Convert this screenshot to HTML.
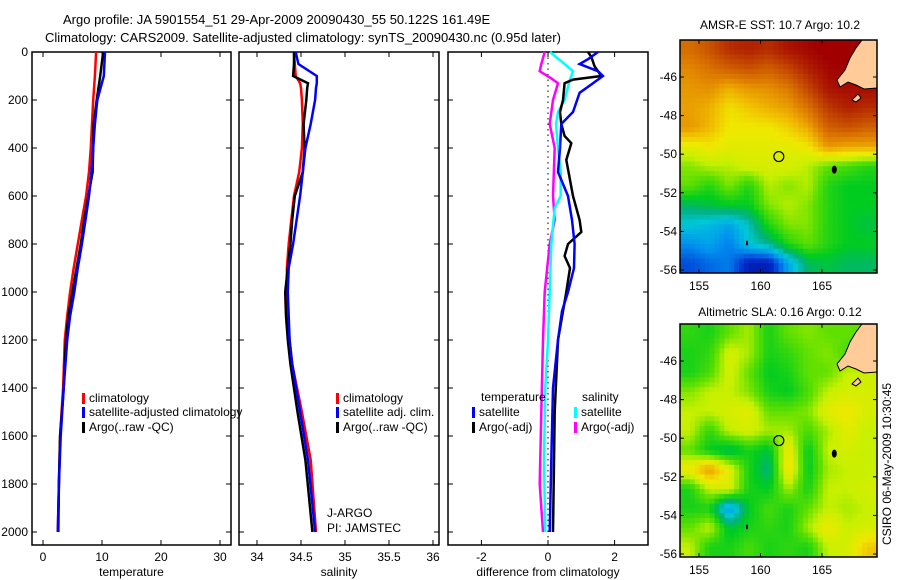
<!DOCTYPE html>
<html><head><meta charset="utf-8"><style>
html,body{margin:0;padding:0;background:#fff;}
svg{display:block;font-family:"Liberation Sans",sans-serif;}
text{font-size:12px;fill:#000;}
</style></head><body>
<svg id="fig" width="900" height="580" viewBox="0 0 900 580" xmlns="http://www.w3.org/2000/svg">
<text x="63" y="24" style="font-size:13px">Argo profile: JA 5901554_51 29-Apr-2009 20090430_55 50.122S 161.49E</text>
<text x="45" y="42" style="font-size:13px">Climatology: CARS2009. Satellite-adjusted climatology: synTS_20090430.nc (0.95d later)</text>
<text x="780" y="29" text-anchor="middle">AMSR-E SST: 10.7 Argo: 10.2</text>
<text x="780" y="316" text-anchor="middle">Altimetric SLA: 0.16 Argo: 0.12</text>
<text transform="translate(891,545) rotate(-90)" x="0" y="0">CSIRO 06-May-2009 10:30:45</text>
<g id="plots"></g>
</svg>
<script>
// ---------- profile data ----------
const depthT = [0,100,200,300,400,500,600,700,800,900,1000,1100,1200,1400,1600,1800,2000];
const climT = [9.0,8.8,8.5,8.3,8.1,7.8,7.3,6.6,5.9,5.2,4.6,4.1,3.7,3.4,2.9,2.7,2.5];
const satT = [10.5,10.3,9.2,8.8,8.5,8.2,7.8,7.2,6.6,5.9,5.3,4.6,4.1,3.5,3.0,2.7,2.5];
const argoT = [10.2,9.7,9.1,8.6,8.5,8.4,7.7,7.0,6.4,5.7,5.0,4.3,3.9,3.5,2.9,2.7,2.6];

const depthS = [0,50,100,130,150,200,300,400,500,600,700,800,900,1000,1100,1200,1300,1500,1700,2000];
const climS = [34.42,34.43,34.44,34.49,34.50,34.51,34.52,34.51,34.48,34.42,34.39,34.36,34.34,34.34,34.35,34.37,34.40,34.51,34.61,34.67];
const satS = [34.44,34.47,34.68,34.68,34.67,34.66,34.61,34.55,34.52,34.49,34.45,34.41,34.36,34.35,34.36,34.37,34.40,34.49,34.58,34.66];
const argoS = [34.42,34.42,34.41,34.58,34.57,34.56,34.53,34.54,34.52,34.43,34.40,34.38,34.35,34.32,34.33,34.35,34.38,34.46,34.55,34.63];

const dDepthTS = [0,30,50,80,100,130,170,250,300,400,500,600,700,800,900,1000,1080,1200,1400,1700,2000];
const dTsat = [1.5,1.2,0.95,1.5,1.65,1.35,0.95,0.75,0.4,0.36,0.3,0.6,0.72,0.8,0.78,0.6,0.42,0.3,0.15,0.1,0.05];
const dDepthTA = [0,20,60,100,115,130,200,250,300,350,380,450,600,700,750,800,850,900,1000,1200,1500,2000];
const dTargo = [1.2,1.3,1.4,1.6,0.75,0.5,0.45,0.36,0.4,0.5,0.7,0.55,0.75,0.95,1.0,0.6,0.5,0.66,0.55,0.3,0.2,0.15];
const dDepthSS = [0,50,80,120,200,250,300,400,500,600,650,800,1000,1200,1400,1700,2000];
const dSsat = [0.06,0.5,0.75,0.65,0.5,0.3,0.24,0.3,0.38,0.38,0.2,0.1,0.05,0,-0.08,-0.12,-0.08];
const dDepthSA = [0,50,80,110,130,200,300,400,600,700,800,1000,1200,1500,1800,2000];
const dSargo = [-0.1,-0.2,-0.25,0.1,0.3,0.15,0.05,0.2,0.15,0.2,0.05,-0.1,-0.15,-0.2,-0.25,-0.15];

const depthTicks = [0,200,400,600,800,1000,1200,1400,1600,1800,2000];
const tempTicks = [0,10,20,30];
const salTicks = [34,34.5,35,35.5,36];
const salTickLabels = ["34","34.5","35","35.5","36"];
const diffTicks = [-2,0,2];
const diffTickLabels = ["-2","0","2"];

// ---------- map data (value 0..1 on colormap; -1 = land) ----------
const sstGrid = [
[0.78,0.82,0.88,0.9,0.88,0.92,0.94,0.96,0.96,-1],
[0.74,0.77,0.8,0.82,0.8,0.84,0.9,0.94,0.95,-1],
[0.72,0.73,0.69,0.72,0.73,0.76,0.84,0.92,0.93,-1],
[0.71,0.69,0.63,0.66,0.69,0.71,0.77,0.86,0.9,0.88],
[0.72,0.68,0.62,0.62,0.62,0.65,0.7,0.8,0.82,0.8],
[0.6,0.62,0.6,0.6,0.6,0.6,0.62,0.72,0.7,0.7],
[0.52,0.55,0.55,0.58,0.58,0.58,0.55,0.5,0.48,0.45],
[0.5,0.45,0.52,0.45,0.55,0.52,0.55,0.45,0.42,0.42],
[0.38,0.4,0.42,0.42,0.52,0.55,0.52,0.45,0.42,0.42],
[0.3,0.28,0.25,0.32,0.45,0.52,0.52,0.45,0.42,0.4],
[0.22,0.25,0.2,0.3,0.35,0.45,0.5,0.45,0.42,0.42],
[0.15,0.18,0.2,0.08,0.08,0.25,0.38,0.4,0.38,0.38]];
const slaGrid = [
[0.46,0.44,0.5,0.54,0.44,0.5,0.52,0.5,0.5,-1],
[0.44,0.46,0.58,0.54,0.44,0.46,0.5,0.52,0.48,-1],
[0.44,0.48,0.58,0.5,0.42,0.44,0.5,0.5,0.56,0.56],
[0.52,0.56,0.56,0.52,0.44,0.42,0.48,0.56,0.58,0.58],
[0.56,0.56,0.58,0.6,0.5,0.5,0.52,0.6,0.62,0.58],
[0.56,0.46,0.56,0.58,0.54,0.54,0.48,0.54,0.6,0.56],
[0.5,0.42,0.38,0.44,0.4,0.62,0.42,0.56,0.58,0.56],
[0.62,0.72,0.6,0.44,0.36,0.64,0.42,0.54,0.56,0.56],
[0.44,0.56,0.58,0.44,0.42,0.54,0.44,0.56,0.56,0.58],
[0.44,0.44,0.22,0.42,0.48,0.44,0.5,0.56,0.54,0.56],
[0.5,0.56,0.4,0.44,0.46,0.44,0.54,0.62,0.56,0.58],
[0.56,0.44,0.44,0.48,0.44,0.46,0.44,0.56,0.58,0.66]];
const lonTicks = [155,160,165];
const latTicks = [-46,-48,-50,-52,-54,-56];
const argoLon = 161.49, argoLat = -50.122;

// ---------- helpers ----------
const NS = "http://www.w3.org/2000/svg";
const root = document.getElementById('plots');
function mk(tag, attrs, parent){
  const e = document.createElementNS(NS, tag);
  for (const k in attrs) e.setAttribute(k, attrs[k]);
  (parent||root).appendChild(e);
  return e;
}
const yD = d => 52 + d*0.24;

function panel(name, x0, x1, xScale, ticks, tickLabels, title, yLabels){
  const g = mk('g', {});
  
  
  const fr = mk('rect', {x:x0, y:52, width:x1-x0, height:493, fill:'none', stroke:'#000', 'stroke-width':1.5}, g);
  
  
  ticks.forEach((t,i)=>{
    const x = xScale(t);
    mk('line', {x1:x, y1:52, x2:x, y2:57, stroke:'#000'}, g);
    mk('line', {x1:x, y1:545, x2:x, y2:540, stroke:'#000'}, g);
    const tl = mk('text', {x:x, y:561, 'text-anchor':'middle'}, g);
    tl.textContent = tickLabels[i];
    
    
  });
  depthTicks.forEach(d=>{
    const y = yD(d);
    mk('line', {x1:x0, y1:y, x2:x0+5, y2:y, stroke:'#000'}, g);
    mk('line', {x1:x1, y1:y, x2:x1-5, y2:y, stroke:'#000'}, g);
    if (yLabels){
      const tl = mk('text', {x:28, y:y+4, 'text-anchor':'end'}, g);
      tl.textContent = d;
      
      
    }
  });
  const at = mk('text', {x:(x0+x1)/2, y:576, 'text-anchor':'middle'}, g);
  at.textContent = title;
  
  
  return g;
}
function line(g, name, xs, ds, xScale, color, w){
  const pts = xs.map((v,i)=> xScale(v).toFixed(1)+','+yD(ds[i]).toFixed(1)).join(' ');
  const p = mk('polyline', {points:pts, fill:'none', stroke:color, 'stroke-width':w||2.5, 'stroke-linejoin':'miter'}, g);
  
  
}
function legend(g, name, x, y, color, label){
  mk('rect', {x:x, y:y-9, width:3, height:11, fill:color}, g);
  const t = mk('text', {x:x+7, y:y}, g);
  t.textContent = label;
  
  
}

// ---------- temperature panel ----------
const xT = v => 43 + v*5.9;
const g1 = panel('temperature-panel', 32, 231, xT, tempTicks, tempTicks.map(String), 'temperature', true);
line(g1, 'temp-climatology-line', climT, depthT, xT, '#ff0000');
line(g1, 'temp-argo-line', argoT, depthT, xT, '#000000');
line(g1, 'temp-satellite-line', satT, depthT, xT, '#0000ff');
legend(g1, 'legend-climatology', 82, 402, '#ff0000', 'climatology');
legend(g1, 'legend-satellite-adjusted', 82, 416, '#0000ff', 'satellite-adjusted climatology');
legend(g1, 'legend-argo-raw', 82, 431, '#000000', 'Argo(..raw -QC)');

// ---------- salinity panel ----------
const xS = v => 257 + (v-34)*88;
const g2 = panel('salinity-panel', 239, 439, xS, salTicks, salTickLabels, 'salinity', false);
line(g2, 'sal-climatology-line', climS, depthS, xS, '#ff0000');
line(g2, 'sal-argo-line', argoS, depthS, xS, '#000000');
line(g2, 'sal-satellite-line', satS, depthS, xS, '#0000ff');
legend(g2, 'legend-sal-climatology', 336, 402, '#ff0000', 'climatology');
legend(g2, 'legend-sal-satellite', 336, 416, '#0000ff', 'satellite adj. clim.');
legend(g2, 'legend-sal-argo', 336, 431, '#000000', 'Argo(..raw -QC)');
const j1 = mk('text', {x:327, y:517}, g2); j1.textContent = 'J-ARGO';


const j2 = mk('text', {x:327, y:532}, g2); j2.textContent = 'PI: JAMSTEC';



// ---------- difference panel ----------
const xDf = v => 548 + v*33.3;
const g3 = panel('difference-panel', 448, 648, xDf, diffTicks, diffTickLabels, 'difference from climatology', false);
const zl = mk('line', {x1:xDf(0), y1:52, x2:xDf(0), y2:545, stroke:'#000', 'stroke-width':1, 'stroke-dasharray':'1.5,4'}, g3);


line(g3, 'diff-sal-argo-line', dSargo, dDepthSA, xDf, '#ff00ff');
line(g3, 'diff-sal-satellite-line', dSsat, dDepthSS, xDf, '#00ffff');
line(g3, 'diff-temp-argo-line', dTargo, dDepthTA, xDf, '#000000');
line(g3, 'diff-temp-satellite-line', dTsat, dDepthTS, xDf, '#0000ff');
const lt = mk('text', {x:481, y:401}, g3); lt.textContent = 'temperature';


const ls = mk('text', {x:582, y:401}, g3); ls.textContent = 'salinity';


legend(g3, 'legend-diff-temp-satellite', 472, 416, '#0000ff', 'satellite');
legend(g3, 'legend-diff-temp-argo', 472, 431, '#000000', 'Argo(-adj)');
legend(g3, 'legend-diff-sal-satellite', 574, 416, '#00ffff', 'satellite');
legend(g3, 'legend-diff-sal-argo', 574, 431, '#ff00ff', 'Argo(-adj)');

// ---------- maps ----------
const stops = [[0,'#000080'],[0.12,'#0030d0'],[0.22,'#0090f0'],[0.3,'#00c8d8'],[0.36,'#00b080'],[0.42,'#00cc20'],[0.5,'#60e000'],[0.56,'#c8f000'],[0.62,'#f0e800'],[0.68,'#f0b800'],[0.75,'#e08000'],[0.85,'#c04000'],[0.95,'#a00000'],[1,'#a00000']];
function hx(c){return [1,3,5].map(i=>parseInt(c.substr(i,2),16));}
function cmap(v){
  for (let i=0;i<stops.length-1;i++){
    if (v <= stops[i+1][0]){
      const t = Math.max(0,(v-stops[i][0])/(stops[i+1][0]-stops[i][0]));
      const a = hx(stops[i][1]), b = hx(stops[i+1][1]);
      return 'rgb('+a.map((c,k)=>Math.round(c+(b[k]-c)*t)).join(',')+')';
    }
  }
  return stops[stops.length-1][1];
}
function seaVal(grid, r, c){
  const rows = grid.length, cols = grid[0].length;
  r = Math.min(rows-1, Math.max(0, r)); c = Math.min(cols-1, Math.max(0, c));
  let v = grid[r][c];
  let cc = c;
  while (v < 0 && cc > 0){ cc--; v = grid[r][cc]; }
  return v;
}
function sample(grid, fr, fc){
  const r0 = Math.floor(fr), c0 = Math.floor(fc);
  const tr = fr - r0, tc = fc - c0;
  const a = seaVal(grid,r0,c0), b = seaVal(grid,r0,c0+1), c = seaVal(grid,r0+1,c0), d = seaVal(grid,r0+1,c0+1);
  return a*(1-tr)*(1-tc) + b*(1-tr)*tc + c*tr*(1-tc) + d*tr*tc;
}
function map(name, grid, top){
  const x0 = 680, x1 = 877, y0 = top, y1 = top + 233;
  const lonX = lon => 760.5 + (lon-160)*12.3;
  const latY = lat => (top+37) + (-46-lat)*19.3;
  const g = mk('g', {});
  
  
  const rows = grid.length, cols = grid[0].length;
  const F = 4;
  const cw = (x1-x0)/(cols*F), ch = (y1-y0)/(rows*F);
  for (let i=0;i<rows*F;i++){
    for (let j=0;j<cols*F;j++){
      const fr = (i+0.5)/F - 0.5, fc = (j+0.5)/F - 0.5;
      const v = sample(grid, fr, fc);
      const cell = mk('rect', {x:(x0+j*cw).toFixed(2), y:(y0+i*ch).toFixed(2), width:(cw+0.5).toFixed(2), height:(ch+0.5).toFixed(2), fill:cmap(v)}, g);
      
      
    }
  }
  const land = mk('polygon', {points:`862,${y0} 877,${y0} 877,${y0+48} 864,${y0+49} 856,${y0+45} 848,${y0+42} 840,${y0+47} 837,${y0+40} 845,${y0+30} 850,${y0+18} 856,${y0+8}`, fill:'#ffcc99', stroke:'#000', 'stroke-width':1}, g);
  
  
  mk('polygon', {points:`852,${y0+60} 858,${y0+54} 861,${y0+58} 856,${y0+62}`, fill:'#ffcc99', stroke:'#000'}, g);
  mk('ellipse', {cx:lonX(166), cy:latY(-50.8), rx:2.5, ry:4, fill:'#000'}, g);
  mk('ellipse', {cx:lonX(158.9), cy:latY(-54.6), rx:1, ry:2.5, fill:'#000'}, g);
  mk('rect', {x:x0, y:y0, width:x1-x0, height:y1-y0, fill:'none', stroke:'#000', 'stroke-width':1.5}, g);
  lonTicks.forEach(l=>{
    const x = lonX(l);
    mk('line', {x1:x, y1:y0, x2:x, y2:y0+4, stroke:'#000'}, g);
    mk('line', {x1:x, y1:y1, x2:x, y2:y1-4, stroke:'#000'}, g);
    const t = mk('text', {x:x, y:y1+17, 'text-anchor':'middle'}, g);
    t.textContent = l;
    
    
  });
  latTicks.forEach(l=>{
    const y = latY(l);
    mk('line', {x1:x0, y1:y, x2:x0+4, y2:y, stroke:'#000'}, g);
    mk('line', {x1:x1, y1:y, x2:x1-4, y2:y, stroke:'#000'}, g);
    const t = mk('text', {x:677, y:y+4, 'text-anchor':'end'}, g);
    t.textContent = l;
    
    
  });
  const m = mk('circle', {cx:lonX(argoLon), cy:latY(argoLat), r:5, fill:'none', stroke:'#000', 'stroke-width':1.2}, g);
  
  
}
map('sst-map', sstGrid, 40);
map('sla-map', slaGrid, 324);
</script>
</body></html>
